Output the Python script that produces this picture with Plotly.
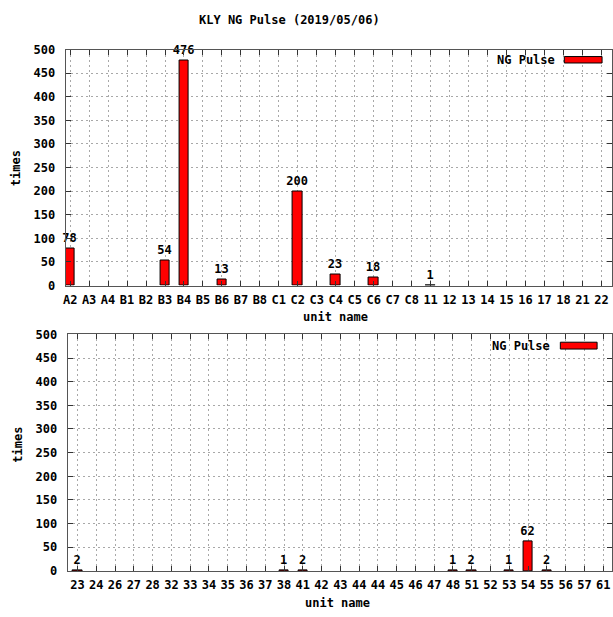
import plotly.graph_objects as go

# ---- data ----
top_units = ["A2", "A3", "A4", "B1", "B2", "B3", "B4", "B5", "B6", "B7", "B8", "C1", "C2", "C3",
             "C4", "C5", "C6", "C7", "C8", "11", "12", "13", "14", "15", "16", "17", "18", "21", "22"]
top_values = [78, 0, 0, 0, 0, 54, 476, 0, 13, 0, 0, 0, 200, 0,
              23, 0, 18, 0, 0, 1, 0, 0, 0, 0, 0, 0, 0, 0, 0]

bot_units = ["23", "24", "26", "27", "28", "32", "33", "34", "35", "36", "37", "38", "41", "42",
             "43", "44", "44", "45", "46", "47", "48", "51", "52", "53", "54", "55", "56", "57", "61"]
bot_values = [2, 0, 0, 0, 0, 0, 0, 0, 0, 0, 0, 1, 2, 0,
              0, 0, 0, 0, 0, 0, 1, 2, 0, 1, 62, 2, 0, 0, 0]

y_ticks = list(range(0, 501, 50))

W, H = 613, 617
FONT = "DejaVu Sans Mono"


def px(x):
    return x / W


def py(y):
    return 1 - y / H


fig = go.Figure()

for vals, xa, ya in [(top_values, "x", "y"), (bot_values, "x2", "y2")]:
    fig.add_trace(go.Bar(
        x=list(range(len(vals))), y=vals, width=0.5,
        marker=dict(color="#ff0000",
                    line=dict(color="#000000", width=[1 if v > 0 else 0 for v in vals])),
        text=[str(v) if v > 0 else "" for v in vals],
        textposition="outside", constraintext="none", cliponaxis=False,
        textfont=dict(family=FONT, size=12, color="black", weight="bold"),
        xaxis=xa, yaxis=ya, showlegend=False, hoverinfo="skip",
    ))

tickfont = dict(family=FONT, size=12, color="black", weight="bold")
grid = dict(showgrid=True, gridcolor="#a8a8a8", griddash="2px,3px", gridwidth=1)
common_x = dict(tickmode="array", ticks="inside", ticklen=5, tickcolor="#333",
                showline=True, linecolor="#555", linewidth=1, mirror="ticks",
                zeroline=False, tickfont=tickfont, tickangle=0, ticklabelstandoff=3, **grid)
common_y = dict(tickmode="array", tickvals=y_ticks, ticks="inside", ticklen=5, tickcolor="#333",
                showline=True, linecolor="#555", linewidth=1, mirror="ticks",
                zeroline=False, tickfont=tickfont, range=[0, 500], ticklabelstandoff=7, **grid)

fig.update_layout(
    width=W, height=H, margin=dict(l=0, r=0, t=0, b=0),
    plot_bgcolor="white", paper_bgcolor="white", bargap=0,
    xaxis=dict(common_x, domain=[px(63), 1], anchor="y", range=[-0.24, 28.56],
               tickvals=list(range(len(top_units))), ticktext=top_units),
    yaxis=dict(common_y, domain=[py(285), py(43.5)], anchor="x"),
    xaxis2=dict(common_x, domain=[px(65), 1], anchor="y2", range=[-0.53, 28.47],
                tickvals=list(range(len(bot_units))), ticktext=bot_units),
    yaxis2=dict(common_y, domain=[py(577), py(335)], anchor="x2"),
)

bold = dict(family=FONT, size=12, color="black", weight="bold")
ann = [
    dict(text="KLY NG Pulse (2019/05/06)", x=px(288), y=py(13)),
    dict(text="unit name", x=px(335), y=py(317)),
    dict(text="unit name", x=px(337), y=py(610)),
    dict(text="times", x=px(13), y=py(165), textangle=-90),
    dict(text="times", x=px(15), y=py(448), textangle=-90),
    dict(text="NG Pulse", x=px(558), y=py(54), xanchor="right"),
    dict(text="NG Pulse", x=px(553), y=py(347), xanchor="right"),
]
for a in ann:
    a.setdefault("xanchor", "center")
    fig.add_annotation(xref="paper", yref="paper", yanchor="middle", showarrow=False,
                       font=bold, **a)

# legend key samples
for (x0, x1, y0, y1) in [(565, 603, 50.7, 57.3), (561, 598, 343, 350)]:
    fig.add_shape(type="rect", xref="paper", yref="paper",
                  x0=px(x0), x1=px(x1), y0=py(y1), y1=py(y0),
                  fillcolor="#ff0000", line=dict(color="black", width=1))

fig.write_html("out.html", config={"displayModeBar": False},
               post_script="document.body.style.margin='0';document.body.style.overflow='hidden';")
